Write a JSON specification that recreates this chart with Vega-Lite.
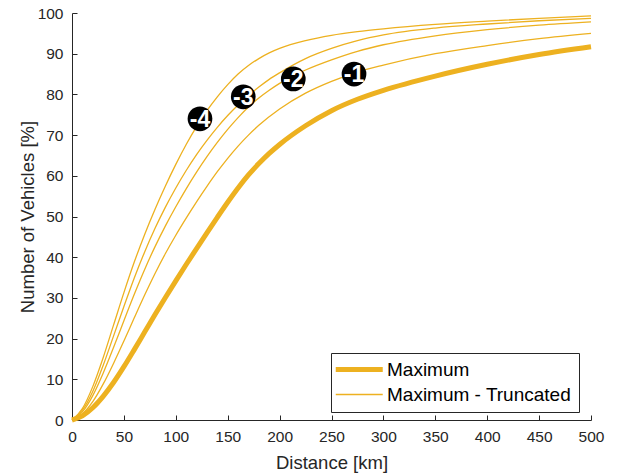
{
  "$schema": "https://vega.github.io/schema/vega-lite/v6.json",
  "width": 519,
  "height": 407,
  "autosize": "none",
  "padding": {"left": 72, "top": 13, "right": 28, "bottom": 55},
  "background": "white",
  "config": {
    "view": {"stroke": null},
    "font": "Liberation Sans",
    "axis": {
      "grid": false,
      "domainColor": "#262626",
      "tickColor": "#262626",
      "labelColor": "#262626",
      "titleColor": "#262626",
      "labelFontSize": 15.5,
      "titleFontSize": 18.5,
      "titleFontWeight": "normal",
      "labelFlush": false,
      "labelOverlap": false,
      "tickSize": -5
    }
  },
  "datasets": {
    "curves": [
      {"s": "max", "type": "Maximum", "d": 0, "v": 0},
      {"s": "max", "type": "Maximum", "d": 10, "v": 1},
      {"s": "max", "type": "Maximum", "d": 20, "v": 3},
      {"s": "max", "type": "Maximum", "d": 30, "v": 5.8},
      {"s": "max", "type": "Maximum", "d": 40, "v": 9.2},
      {"s": "max", "type": "Maximum", "d": 50, "v": 13.1},
      {"s": "max", "type": "Maximum", "d": 60, "v": 17.3},
      {"s": "max", "type": "Maximum", "d": 70, "v": 21.6},
      {"s": "max", "type": "Maximum", "d": 80, "v": 25.9},
      {"s": "max", "type": "Maximum", "d": 90, "v": 30.1},
      {"s": "max", "type": "Maximum", "d": 100, "v": 34.2},
      {"s": "max", "type": "Maximum", "d": 110, "v": 38.2},
      {"s": "max", "type": "Maximum", "d": 120, "v": 42.1},
      {"s": "max", "type": "Maximum", "d": 130, "v": 46},
      {"s": "max", "type": "Maximum", "d": 140, "v": 49.8},
      {"s": "max", "type": "Maximum", "d": 150, "v": 53.5},
      {"s": "max", "type": "Maximum", "d": 160, "v": 57},
      {"s": "max", "type": "Maximum", "d": 170, "v": 60.2},
      {"s": "max", "type": "Maximum", "d": 180, "v": 63},
      {"s": "max", "type": "Maximum", "d": 190, "v": 65.5},
      {"s": "max", "type": "Maximum", "d": 200, "v": 67.7},
      {"s": "max", "type": "Maximum", "d": 225, "v": 72.3},
      {"s": "max", "type": "Maximum", "d": 250, "v": 76},
      {"s": "max", "type": "Maximum", "d": 275, "v": 78.8},
      {"s": "max", "type": "Maximum", "d": 300, "v": 81},
      {"s": "max", "type": "Maximum", "d": 350, "v": 84.5},
      {"s": "max", "type": "Maximum", "d": 400, "v": 87.4},
      {"s": "max", "type": "Maximum", "d": 450, "v": 89.8},
      {"s": "max", "type": "Maximum", "d": 500, "v": 91.7},

      {"s": "t1", "type": "Maximum - Truncated", "d": 0, "v": 0},
      {"s": "t1", "type": "Maximum - Truncated", "d": 10, "v": 1.5},
      {"s": "t1", "type": "Maximum - Truncated", "d": 20, "v": 4.5},
      {"s": "t1", "type": "Maximum - Truncated", "d": 30, "v": 8.8},
      {"s": "t1", "type": "Maximum - Truncated", "d": 40, "v": 13.9},
      {"s": "t1", "type": "Maximum - Truncated", "d": 50, "v": 19.4},
      {"s": "t1", "type": "Maximum - Truncated", "d": 60, "v": 25.1},
      {"s": "t1", "type": "Maximum - Truncated", "d": 70, "v": 30.7},
      {"s": "t1", "type": "Maximum - Truncated", "d": 80, "v": 36},
      {"s": "t1", "type": "Maximum - Truncated", "d": 90, "v": 40.9},
      {"s": "t1", "type": "Maximum - Truncated", "d": 100, "v": 45.4},
      {"s": "t1", "type": "Maximum - Truncated", "d": 110, "v": 49.6},
      {"s": "t1", "type": "Maximum - Truncated", "d": 120, "v": 53.6},
      {"s": "t1", "type": "Maximum - Truncated", "d": 130, "v": 57.4},
      {"s": "t1", "type": "Maximum - Truncated", "d": 140, "v": 61},
      {"s": "t1", "type": "Maximum - Truncated", "d": 150, "v": 64.3},
      {"s": "t1", "type": "Maximum - Truncated", "d": 160, "v": 67.3},
      {"s": "t1", "type": "Maximum - Truncated", "d": 170, "v": 70},
      {"s": "t1", "type": "Maximum - Truncated", "d": 180, "v": 72.4},
      {"s": "t1", "type": "Maximum - Truncated", "d": 200, "v": 76.4},
      {"s": "t1", "type": "Maximum - Truncated", "d": 225, "v": 80.3},
      {"s": "t1", "type": "Maximum - Truncated", "d": 250, "v": 83.2},
      {"s": "t1", "type": "Maximum - Truncated", "d": 275, "v": 85.5},
      {"s": "t1", "type": "Maximum - Truncated", "d": 300, "v": 87.2},
      {"s": "t1", "type": "Maximum - Truncated", "d": 350, "v": 90},
      {"s": "t1", "type": "Maximum - Truncated", "d": 400, "v": 92},
      {"s": "t1", "type": "Maximum - Truncated", "d": 450, "v": 93.7},
      {"s": "t1", "type": "Maximum - Truncated", "d": 500, "v": 95},

      {"s": "t2", "type": "Maximum - Truncated", "d": 0, "v": 0},
      {"s": "t2", "type": "Maximum - Truncated", "d": 10, "v": 2},
      {"s": "t2", "type": "Maximum - Truncated", "d": 20, "v": 6},
      {"s": "t2", "type": "Maximum - Truncated", "d": 30, "v": 11.5},
      {"s": "t2", "type": "Maximum - Truncated", "d": 40, "v": 17.8},
      {"s": "t2", "type": "Maximum - Truncated", "d": 50, "v": 24.4},
      {"s": "t2", "type": "Maximum - Truncated", "d": 60, "v": 30.9},
      {"s": "t2", "type": "Maximum - Truncated", "d": 70, "v": 37},
      {"s": "t2", "type": "Maximum - Truncated", "d": 80, "v": 42.6},
      {"s": "t2", "type": "Maximum - Truncated", "d": 90, "v": 47.7},
      {"s": "t2", "type": "Maximum - Truncated", "d": 100, "v": 52.4},
      {"s": "t2", "type": "Maximum - Truncated", "d": 110, "v": 56.8},
      {"s": "t2", "type": "Maximum - Truncated", "d": 120, "v": 60.9},
      {"s": "t2", "type": "Maximum - Truncated", "d": 130, "v": 64.7},
      {"s": "t2", "type": "Maximum - Truncated", "d": 140, "v": 68.2},
      {"s": "t2", "type": "Maximum - Truncated", "d": 150, "v": 71.4},
      {"s": "t2", "type": "Maximum - Truncated", "d": 160, "v": 74.3},
      {"s": "t2", "type": "Maximum - Truncated", "d": 170, "v": 76.9},
      {"s": "t2", "type": "Maximum - Truncated", "d": 180, "v": 79.1},
      {"s": "t2", "type": "Maximum - Truncated", "d": 190, "v": 81},
      {"s": "t2", "type": "Maximum - Truncated", "d": 200, "v": 82.7},
      {"s": "t2", "type": "Maximum - Truncated", "d": 225, "v": 86},
      {"s": "t2", "type": "Maximum - Truncated", "d": 250, "v": 88.5},
      {"s": "t2", "type": "Maximum - Truncated", "d": 275, "v": 90.6},
      {"s": "t2", "type": "Maximum - Truncated", "d": 300, "v": 92.2},
      {"s": "t2", "type": "Maximum - Truncated", "d": 350, "v": 94.4},
      {"s": "t2", "type": "Maximum - Truncated", "d": 400, "v": 95.9},
      {"s": "t2", "type": "Maximum - Truncated", "d": 450, "v": 97},
      {"s": "t2", "type": "Maximum - Truncated", "d": 500, "v": 97.8},

      {"s": "t3", "type": "Maximum - Truncated", "d": 0, "v": 0},
      {"s": "t3", "type": "Maximum - Truncated", "d": 10, "v": 2.4},
      {"s": "t3", "type": "Maximum - Truncated", "d": 20, "v": 7},
      {"s": "t3", "type": "Maximum - Truncated", "d": 30, "v": 13.4},
      {"s": "t3", "type": "Maximum - Truncated", "d": 40, "v": 20.6},
      {"s": "t3", "type": "Maximum - Truncated", "d": 50, "v": 27.9},
      {"s": "t3", "type": "Maximum - Truncated", "d": 60, "v": 34.9},
      {"s": "t3", "type": "Maximum - Truncated", "d": 70, "v": 41.3},
      {"s": "t3", "type": "Maximum - Truncated", "d": 80, "v": 47.1},
      {"s": "t3", "type": "Maximum - Truncated", "d": 90, "v": 52.3},
      {"s": "t3", "type": "Maximum - Truncated", "d": 100, "v": 57},
      {"s": "t3", "type": "Maximum - Truncated", "d": 110, "v": 61.3},
      {"s": "t3", "type": "Maximum - Truncated", "d": 120, "v": 65.2},
      {"s": "t3", "type": "Maximum - Truncated", "d": 130, "v": 68.7},
      {"s": "t3", "type": "Maximum - Truncated", "d": 140, "v": 71.9},
      {"s": "t3", "type": "Maximum - Truncated", "d": 150, "v": 74.8},
      {"s": "t3", "type": "Maximum - Truncated", "d": 160, "v": 77.4},
      {"s": "t3", "type": "Maximum - Truncated", "d": 170, "v": 79.7},
      {"s": "t3", "type": "Maximum - Truncated", "d": 180, "v": 81.8},
      {"s": "t3", "type": "Maximum - Truncated", "d": 190, "v": 83.7},
      {"s": "t3", "type": "Maximum - Truncated", "d": 200, "v": 85.3},
      {"s": "t3", "type": "Maximum - Truncated", "d": 225, "v": 88.8},
      {"s": "t3", "type": "Maximum - Truncated", "d": 250, "v": 91.3},
      {"s": "t3", "type": "Maximum - Truncated", "d": 275, "v": 93.2},
      {"s": "t3", "type": "Maximum - Truncated", "d": 300, "v": 94.6},
      {"s": "t3", "type": "Maximum - Truncated", "d": 350, "v": 96.3},
      {"s": "t3", "type": "Maximum - Truncated", "d": 400, "v": 97.3},
      {"s": "t3", "type": "Maximum - Truncated", "d": 450, "v": 98.1},
      {"s": "t3", "type": "Maximum - Truncated", "d": 500, "v": 98.7},

      {"s": "t4", "type": "Maximum - Truncated", "d": 0, "v": 0},
      {"s": "t4", "type": "Maximum - Truncated", "d": 10, "v": 2.8},
      {"s": "t4", "type": "Maximum - Truncated", "d": 20, "v": 8.2},
      {"s": "t4", "type": "Maximum - Truncated", "d": 30, "v": 15.3},
      {"s": "t4", "type": "Maximum - Truncated", "d": 40, "v": 23.3},
      {"s": "t4", "type": "Maximum - Truncated", "d": 50, "v": 31.3},
      {"s": "t4", "type": "Maximum - Truncated", "d": 60, "v": 38.8},
      {"s": "t4", "type": "Maximum - Truncated", "d": 70, "v": 45.6},
      {"s": "t4", "type": "Maximum - Truncated", "d": 80, "v": 51.8},
      {"s": "t4", "type": "Maximum - Truncated", "d": 90, "v": 57.5},
      {"s": "t4", "type": "Maximum - Truncated", "d": 100, "v": 62.8},
      {"s": "t4", "type": "Maximum - Truncated", "d": 110, "v": 67.7},
      {"s": "t4", "type": "Maximum - Truncated", "d": 120, "v": 72.1},
      {"s": "t4", "type": "Maximum - Truncated", "d": 130, "v": 76},
      {"s": "t4", "type": "Maximum - Truncated", "d": 140, "v": 79.4},
      {"s": "t4", "type": "Maximum - Truncated", "d": 150, "v": 82.4},
      {"s": "t4", "type": "Maximum - Truncated", "d": 160, "v": 85},
      {"s": "t4", "type": "Maximum - Truncated", "d": 170, "v": 87.1},
      {"s": "t4", "type": "Maximum - Truncated", "d": 180, "v": 88.8},
      {"s": "t4", "type": "Maximum - Truncated", "d": 190, "v": 90.2},
      {"s": "t4", "type": "Maximum - Truncated", "d": 200, "v": 91.3},
      {"s": "t4", "type": "Maximum - Truncated", "d": 225, "v": 93.2},
      {"s": "t4", "type": "Maximum - Truncated", "d": 250, "v": 94.5},
      {"s": "t4", "type": "Maximum - Truncated", "d": 275, "v": 95.4},
      {"s": "t4", "type": "Maximum - Truncated", "d": 300, "v": 96.1},
      {"s": "t4", "type": "Maximum - Truncated", "d": 350, "v": 97.2},
      {"s": "t4", "type": "Maximum - Truncated", "d": 400, "v": 98},
      {"s": "t4", "type": "Maximum - Truncated", "d": 450, "v": 98.7},
      {"s": "t4", "type": "Maximum - Truncated", "d": 500, "v": 99.3}
    ],
    "labels": [
      {"label": "-4", "d": 123.3, "v": 74.0},
      {"label": "-3", "d": 165.0, "v": 79.4},
      {"label": "-2", "d": 213.2, "v": 83.8},
      {"label": "-1", "d": 271.7, "v": 85.0}
    ]
  },
  "layer": [
    {
      "data": {"name": "curves"},
      "mark": {"type": "line", "color": "#EDB120", "interpolate": "monotone"},
      "encoding": {
        "x": {
          "field": "d", "type": "quantitative",
          "scale": {"domain": [0, 500], "nice": false},
          "axis": {
            "values": [0, 50, 100, 150, 200, 250, 300, 350, 400, 450, 500],
            "title": "Distance [km]",
            "labelPadding": 14,
            "titleY": 48,
            "titleBaseline": "alphabetic"
          }
        },
        "y": {
          "field": "v", "type": "quantitative",
          "scale": {"domain": [0, 100], "nice": false},
          "axis": {
            "values": [0, 10, 20, 30, 40, 50, 60, 70, 80, 90, 100],
            "title": "Number of Vehicles [%]",
            "labelPadding": 14,
            "titleX": -39,
            "titleY": 203.5,
            "titleAngle": -90,
            "titleBaseline": "alphabetic",
            "titleAlign": "center"
          }
        },
        "detail": {"field": "s"},
        "strokeWidth": {
          "field": "type", "type": "nominal",
          "scale": {"domain": ["Maximum", "Maximum - Truncated"], "range": [5, 1.3]},
          "legend": {
            "title": null,
            "orient": "none",
            "legendX": 259,
            "legendY": 340,
            "strokeColor": "#262626",
            "fillColor": "white",
            "padding": 7,
            "labelFontSize": 19,
            "labelColor": "#000000",
            "labelLimit": 400,
            "symbolType": "M-2.0,0H6.0",
            "symbolSize": 138,
            "symbolStrokeColor": "#EDB120",
            "labelOffset": 30,
            "rowPadding": 5
          }
        }
      }
    },
    {
      "data": {"name": "labels"},
      "mark": {"type": "point", "filled": true, "color": "#000000", "opacity": 1, "size": 610},
      "encoding": {
        "x": {"field": "d", "type": "quantitative"},
        "y": {"field": "v", "type": "quantitative"}
      }
    },
    {
      "data": {"name": "labels"},
      "mark": {"type": "text", "color": "#ffffff", "fontSize": 23, "fontWeight": "bold", "baseline": "middle", "align": "center", "dy": 1},
      "encoding": {
        "x": {"field": "d", "type": "quantitative"},
        "y": {"field": "v", "type": "quantitative"},
        "text": {"field": "label"}
      }
    }
  ]
}
